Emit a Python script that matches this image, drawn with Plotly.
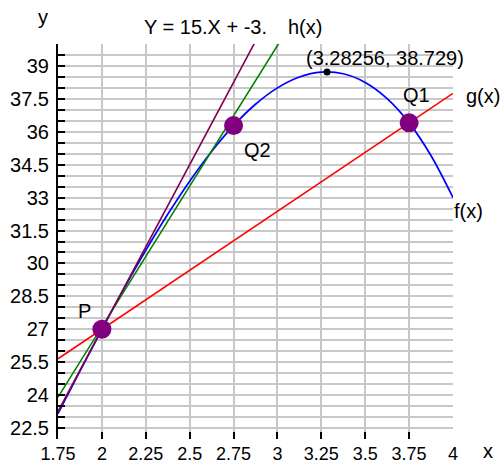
import plotly.graph_objects as go

# f(x) sampled along the curve
f_x = [1.75, 1.875, 2.0, 2.125, 2.25, 2.375, 2.5, 2.625, 2.75, 2.875,
       3.0, 3.125, 3.25, 3.375, 3.5, 3.625, 3.75, 3.875, 4.0]
f_y = [23.156, 25.098, 27.0, 28.840, 30.594, 32.238, 33.75, 35.105, 36.281, 37.254,
       38.0, 38.496, 38.719, 38.645, 38.25, 37.512, 36.406, 34.910, 33.0]

# secant g(x) through P and Q1
g_x = [1.75, 4.0]
g_y = [25.656, 37.75]

# secant through P and Q2
s_x = [1.75, 4.0]
s_y = [23.906, 52.75]

# tangent h(x) at P: Y = 15.X + -3.
h_x = [1.75, 4.0]
h_y = [23.25, 57.0]

# named points
pt_names = ["P", "Q1", "Q2"]
pt_x = [2.0, 3.75, 2.75]
pt_y = [27.0, 36.406, 36.281]

# maximum of f
max_x = [3.28256]
max_y = [38.729]

x_ticks = [1.75, 2, 2.25, 2.5, 2.75, 3, 3.25, 3.5, 3.75, 4]
x_labels = ["1.75", "2", "2.25", "2.5", "2.75", "3", "3.25", "3.5", "3.75", "4"]
y_ticks = [22.5, 24, 25.5, 27, 28.5, 30, 31.5, 33, 34.5, 36, 37.5, 39]
y_labels = ["22.5", "24", "25.5", "27", "28.5", "30", "31.5", "33", "34.5", "36", "37.5", "39"]

FONT = "Liberation Sans"
FS = 20
GRID = "#c8c8c8"

fig = go.Figure()
fig.add_trace(go.Scatter(x=f_x, y=f_y, mode="lines", line=dict(color="#0000ff", width=1.7, shape="spline")))
fig.add_trace(go.Scatter(x=g_x, y=g_y, mode="lines", line=dict(color="#ff0000", width=1.6)))
fig.add_trace(go.Scatter(x=s_x, y=s_y, mode="lines", line=dict(color="#008000", width=1.6)))
fig.add_trace(go.Scatter(x=h_x, y=h_y, mode="lines", line=dict(color="#800050", width=1.6)))
fig.add_trace(go.Scatter(x=pt_x, y=pt_y, mode="markers", marker=dict(color="#800080", size=19)))
fig.add_trace(go.Scatter(x=max_x, y=max_y, mode="markers", marker=dict(color="black", size=7)))

tf = dict(family=FONT, size=FS, color="black")
xtf = dict(family=FONT, size=18, color="black")

# plot area in pixels, used to place the free-standing texts
L, R, T, B = 58, 49, 44, 25
PW, PH = 502 - L - R, 464 - T - B


def label(text, x, y, xs, ys, xanchor="center", xref="x", yref="y"):
    fig.add_annotation(text=text, x=x, y=y, xref=xref, yref=yref, showarrow=False,
                       xanchor=xanchor, yanchor="middle", xshift=xs, yshift=ys, font=tf)


# point labels
label(pt_names[0], pt_x[0], pt_y[0], -17, 18)
label(pt_names[1], pt_x[1], pt_y[1], 7, 28)
label(pt_names[2], pt_x[2], pt_y[2], 24, -24)
label("(%g, %g)" % (max_x[0], max_y[0]), max_x[0], max_y[0], -23, 14, xanchor="left")
# curve labels
label("g(x)", g_x[-1], g_y[-1], 11, -3, xanchor="left")
label("f(x)", f_x[-1], f_y[-1], -1, -13, xanchor="left")
label("Y = 15.X + -3.", (142 - L) / PW, 1, 0, 17, xanchor="left", xref="paper", yref="paper")
label("h(x)", (286 - L) / PW, 1, 0, 17, xanchor="left", xref="paper", yref="paper")
# axis names
label("y", 0, 1, -15, 27, xref="paper", yref="paper")
label("x", 1, 0, 35, -12, xref="paper", yref="paper")

fig.update_layout(
    template="none",
    width=502, height=464,
    margin=dict(l=L, r=R, t=T, b=B, pad=0),
    plot_bgcolor="white", paper_bgcolor="white",
    showlegend=False,
    font=tf,
    xaxis=dict(range=[1.75, 4], tickmode="array", tickvals=x_ticks, ticktext=x_labels,
               ticks="inside", ticklen=7, tickwidth=2, tickcolor="black",
               showgrid=True, gridcolor=GRID, gridwidth=1.5,
               showline=True, linecolor="rgba(0,0,0,0)", zeroline=False,
               tickfont=xtf, ticklabelstandoff=-2, automargin=False),
    yaxis=dict(range=[22, 40], tickmode="array", tickvals=y_ticks, ticktext=y_labels,
               ticks="inside", ticklen=7, tickwidth=2, tickcolor="black",
               showgrid=True, gridcolor=GRID, gridwidth=1.5,
               showline=True, linecolor="black", linewidth=2, zeroline=False,
               tickfont=tf, ticklabelstandoff=3, automargin=False,
               minor=dict(tickmode="linear", tick0=22, dtick=0.5, ticks="inside",
                          ticklen=7, tickwidth=2, tickcolor="black",
                          showgrid=True, gridcolor=GRID, gridwidth=1.5)),
)

fig.write_html("out.html")
